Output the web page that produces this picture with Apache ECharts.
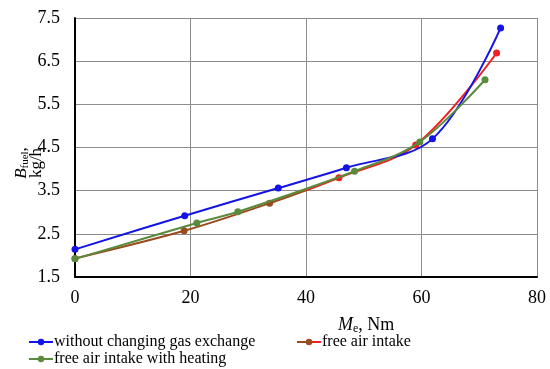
<!DOCTYPE html>
<html><head><meta charset="utf-8">
<script src="https://cdn.jsdelivr.net/npm/echarts@6/dist/echarts.min.js"></script>
<style>html,body{margin:0;padding:0;background:#fff}#c{width:550px;height:369px}</style>
</head><body><div id="c"></div>
<script>
const seriesNames = ['without changing gas exchange', 'free air intake', 'free air intake with heating'];
const xTicks = [0, 20, 40, 60, 80];
const yTicks = [1.5, 2.5, 3.5, 4.5, 5.5, 6.5, 7.5];
const blueX = [0, 19, 35.2, 47, 61.9, 73.7];
const blueY = [2.14, 2.92, 3.56, 4.03, 4.70, 7.27];
const redX = [0, 18.9, 33.7, 45.7, 59.0, 73.0];
const redY = [1.93, 2.57, 3.21, 3.80, 4.56, 6.69];
const greenX = [0, 21.1, 28.2, 48.4, 59.7, 71.0];
const greenY = [1.92, 2.75, 3.01, 3.95, 4.63, 6.07];
const colourSwitchX = 40;

const FONT = '"Liberation Serif", "Times New Roman", serif';
const BLUE = '#1414e6', RED = '#f02020', BROWN = '#9a4a1c', GREEN = '#5a8a3c';
const pair = (xs, ys) => xs.map((x, i) => [x, ys[i]]);
const redData = redX.map((x, i) => ({value: [x, redY[i]], itemStyle: {color: x < colourSwitchX ? BROWN : RED}}));
const minRX = Math.min(...redX), maxRX = Math.max(...redX);
const off = (colourSwitchX - minRX) / (maxRX - minRX);
const redGrad = new echarts.graphic.LinearGradient(0, 0, 1, 0, [
  {offset: 0, color: BROWN}, {offset: off, color: BROWN},
  {offset: off, color: RED}, {offset: 1, color: RED}
]);

const legendBase = {
  orient: 'horizontal', itemWidth: 24, itemHeight: 8, padding: 0,
  textStyle: {fontFamily: FONT, fontSize: 16, color: '#000', padding: [0, 0, 0, -4]}
};

const chart = echarts.init(document.getElementById('c'));
chart.setOption({
  animation: false,
  backgroundColor: '#fff',
  grid: {left: 75, right: 13, top: 18, bottom: 92},
  xAxis: {
    type: 'value', min: xTicks[0], max: xTicks[xTicks.length - 1], interval: 20,
    axisLine: {show: true, onZero: false, lineStyle: {color: '#000', width: 2}},
    axisTick: {show: false},
    axisLabel: {fontFamily: FONT, fontSize: 18, color: '#000', margin: 12},
    splitLine: {show: true, lineStyle: {color: '#8c8c8c', width: 1}}
  },
  yAxis: {
    type: 'value', min: yTicks[0], max: yTicks[yTicks.length - 1], interval: 1,
    axisLine: {show: true, onZero: false, lineStyle: {color: '#000', width: 2}},
    axisTick: {show: false},
    axisLabel: {fontFamily: FONT, fontSize: 18, color: '#000', margin: 15,
      formatter: v => v.toFixed(1)},
    splitLine: {show: true, lineStyle: {color: '#8c8c8c', width: 1}}
  },
  legend: [
    Object.assign({data: [seriesNames[0]], left: 28, top: 334}, legendBase),
    Object.assign({data: [seriesNames[1]], left: 296, top: 334}, legendBase),
    Object.assign({data: [seriesNames[2]], left: 28, top: 351}, legendBase)
  ],
  graphic: [{
    type: 'text', left: 338, top: 316,
    style: {
      rich: {
        i: {fontFamily: FONT, fontSize: 18, fontStyle: 'italic', fill: '#000'},
        s: {fontFamily: FONT, fontSize: 12, fill: '#000', padding: [8, 0, 0, 0]},
        n: {fontFamily: FONT, fontSize: 18, fill: '#000'}
      },
      text: '{i|M}{s|e}{n|, Nm}'
    }
  }, {
    type: 'text', x: 14, y: 163, rotation: Math.PI / 2,
    style: {
      rich: {
        i: {fontFamily: FONT, fontSize: 17, fontStyle: 'italic', fill: '#000', lineHeight: 15},
        s: {fontFamily: FONT, fontSize: 11, fill: '#000', padding: [8, 0, 0, 0], lineHeight: 15},
        n: {fontFamily: FONT, fontSize: 17, fill: '#000', lineHeight: 15}
      },
      align: 'center',
      text: '{i|B}{s|fuel}{n|,}\n{n|kg/h}'
    }
  }],
  series: [{
    name: seriesNames[0], type: 'line', data: pair(blueX, blueY), smooth: 0.35,
    symbol: 'circle', symbolSize: 7, color: BLUE,
    lineStyle: {width: 2, color: BLUE}, itemStyle: {color: BLUE}, z: 3
  }, {
    name: seriesNames[1], type: 'line', data: redData, smooth: 0.35,
    symbol: 'circle', symbolSize: 7, color: BROWN,
    lineStyle: {width: 2, color: redGrad}, itemStyle: {color: BROWN}, z: 2
  }, {
    name: seriesNames[2], type: 'line', data: pair(greenX, greenY), smooth: 0.35,
    symbol: 'circle', symbolSize: 7, color: GREEN,
    lineStyle: {width: 2, color: GREEN}, itemStyle: {color: GREEN}, z: 4
  }]
});
</script></body></html>
